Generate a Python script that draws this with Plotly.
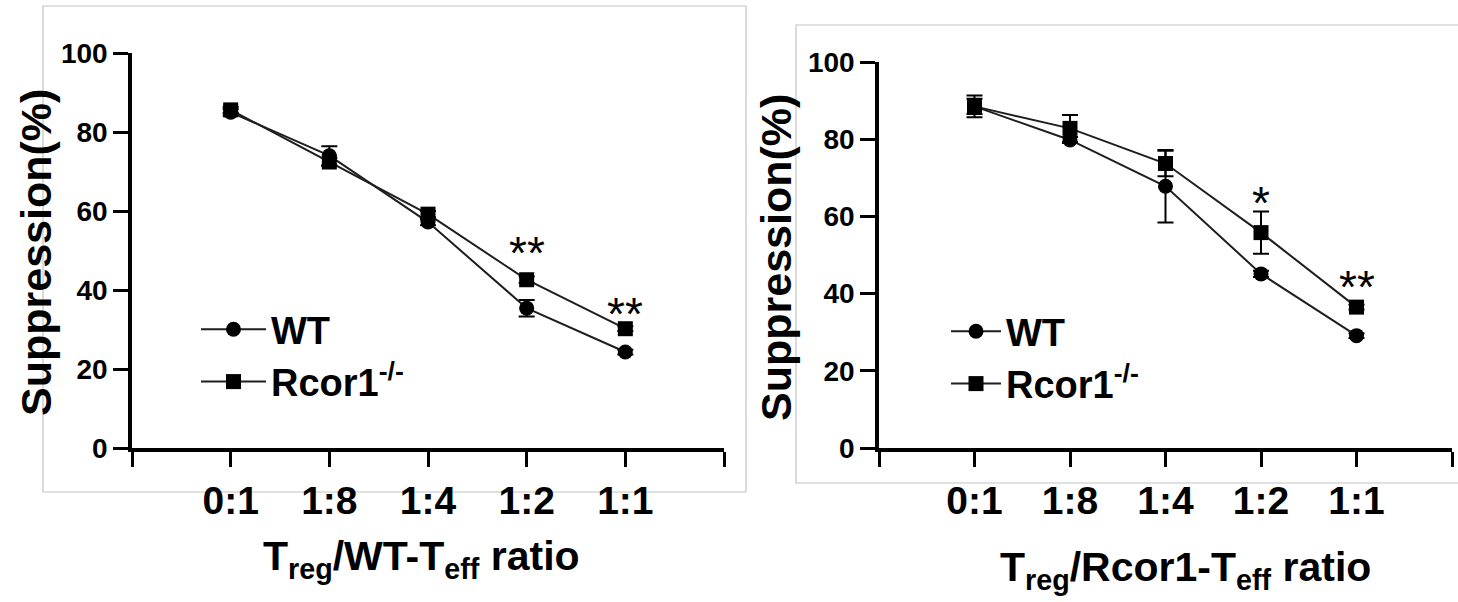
import plotly.graph_objects as go

W, H = 1458, 602

# ---------------- data ----------------
categories = ["0:1", "1:8", "1:4", "1:2", "1:1"]
cat_pos = [0, 1, 2, 3, 4]

# left panel: Treg / WT-Teff
left_wt = [85.0, 74.0, 57.2, 35.4, 24.3]
left_wt_err = [0.8, 2.4, 0.8, 2.1, 0.6]
left_ko = [85.6, 72.4, 59.2, 42.6, 30.2]
left_ko_err = [0.8, 1.0, 0.8, 0.8, 0.6]
left_star_text = ["", "", "", "**", "**"]
left_star_y = [None, None, None, 49.3, 33.8]

# right panel: Treg / Rcor1-Teff
right_wt = [88.5, 79.8, 67.8, 45.1, 29.1]
right_wt_err = [2.0, 0.8, 9.4, 0.8, 0.6]
right_ko = [88.5, 82.8, 73.7, 55.8, 36.5]
right_ko_err = [2.8, 3.5, 3.3, 5.5, 0.6]
right_star_text = ["", "", "", "*", "**"]
right_star_y = [None, None, None, 63.5, 41.8]

y_ticks = [0, 20, 40, 60, 80, 100]
series_names = ["WT", "Rcor1<sup>-/-</sup>"]
y_title = "Suppression(%)"
x_titles = ["T<sub>reg</sub>/WT-T<sub>eff</sub> ratio",
            "T<sub>reg</sub>/Rcor1-T<sub>eff</sub> ratio"]

FONT = "Arial, 'Liberation Sans', sans-serif"
LINE_C = "#1e1e1e"


def px(x):
    return x / W


def py(y):
    return 1 - y / H


fig = go.Figure()

panels = [
    dict(wt=left_wt, wte=left_wt_err, ko=left_ko, koe=left_ko_err,
         st=left_star_text, sy=left_star_y, xa="x", ya="y", leg="legend"),
    dict(wt=right_wt, wte=right_wt_err, ko=right_ko, koe=right_ko_err,
         st=right_star_text, sy=right_star_y, xa="x2", ya="y2", leg="legend2"),
]

for p in panels:
    for name, vals, errs, sym in [(series_names[0], p["wt"], p["wte"], "circle"),
                                  (series_names[1], p["ko"], p["koe"], "square")]:
        fig.add_trace(go.Scatter(
            x=cat_pos, y=vals, name=name, mode="lines+markers",
            xaxis=p["xa"], yaxis=p["ya"], legend=p["leg"],
            line=dict(color=LINE_C, width=2),
            marker=dict(symbol=sym, size=15, color="black"),
            error_y=dict(type="data", array=errs, visible=True,
                         color="black", thickness=2, width=8),
        ))
    for xi, t, yv in zip(cat_pos, p["st"], p["sy"]):
        if t:
            fig.add_annotation(x=xi, y=yv, xref=p["xa"], yref=p["ya"], text=t,
                               showarrow=False, xanchor="center", yanchor="middle",
                               font=dict(family=FONT, size=46, color="black"))

axis_common = dict(
    showline=True, linecolor="black", linewidth=3.5, mirror=False,
    ticks="outside", ticklen=15, tickwidth=3, tickcolor="black",
    showgrid=False, zeroline=False, fixedrange=True, automargin=False,
)
x_end_ticks = dict(tickvals=[-1, 5], ticks="outside", ticklen=15, tickwidth=3,
                   tickcolor="black", showgrid=False)

fig.update_layout(
    template="none",
    width=W, height=H, autosize=False,
    margin=dict(l=0, r=0, t=0, b=0, pad=0, autoexpand=False),
    paper_bgcolor="white", plot_bgcolor="white",
    font=dict(family=FONT, color="black"),
    xaxis=dict(domain=[px(132), px(724)], range=[-1, 5], anchor="y",
               tickvals=cat_pos, ticktext=categories, minor=x_end_ticks,
               tickfont=dict(size=39, weight="bold", family=FONT), **axis_common),
    yaxis=dict(domain=[py(448), py(53)], range=[0, 100], anchor="x",
               tickvals=y_ticks, tickfont=dict(size=28, weight="bold", family=FONT),
               **axis_common),
    xaxis2=dict(domain=[px(879), px(1452)], range=[-1, 5], anchor="y2",
                tickvals=cat_pos, ticktext=categories, minor=x_end_ticks,
                tickfont=dict(size=39, weight="bold", family=FONT), **axis_common),
    yaxis2=dict(domain=[py(448), py(62)], range=[0, 100], anchor="x2",
                tickvals=y_ticks, tickfont=dict(size=28, weight="bold", family=FONT),
                **axis_common),
    legend=dict(x=px(196), y=py(298), xanchor="left", yanchor="top",
                bgcolor="rgba(0,0,0,0)", borderwidth=0, itemwidth=65,
                font=dict(size=38, weight="bold", family=FONT),
                traceorder="normal", itemclick=False),
    legend2=dict(x=px(946), y=py(300), xanchor="left", yanchor="top",
                 bgcolor="rgba(0,0,0,0)", borderwidth=0, itemwidth=50,
                 font=dict(size=38, weight="bold", family=FONT),
                 traceorder="normal", itemclick=False),
    showlegend=True,
)

# panel frames (light gray)
frame_c = "#c4c4c4"
fig.add_shape(type="rect", xref="paper", yref="paper",
              x0=px(43), x1=px(746), y0=py(492), y1=py(6),
              line=dict(color=frame_c, width=1.2), layer="below")
fig.add_shape(type="rect", xref="paper", yref="paper",
              x0=px(796), x1=px(1470), y0=py(483), y1=py(25),
              line=dict(color=frame_c, width=1.2), layer="below")

# axis titles
fig.add_annotation(x=px(36), y=py(253), xref="paper", yref="paper",
                   text=y_title, textangle=-90, showarrow=False,
                   xanchor="center", yanchor="middle",
                   font=dict(size=43, weight="bold", family=FONT))
fig.add_annotation(x=px(776), y=py(258), xref="paper", yref="paper",
                   text=y_title, textangle=-90, showarrow=False,
                   xanchor="center", yanchor="middle",
                   font=dict(size=43, weight="bold", family=FONT))
fig.add_annotation(x=px(421), y=py(559), xref="paper", yref="paper",
                   text=x_titles[0], showarrow=False,
                   xanchor="center", yanchor="middle",
                   font=dict(size=41, weight="bold", family=FONT))
fig.add_annotation(x=px(1185), y=py(570), xref="paper", yref="paper",
                   text=x_titles[1], showarrow=False,
                   xanchor="center", yanchor="middle",
                   font=dict(size=41, weight="bold", family=FONT))

fig.write_html(
    "out.html",
    config={"displayModeBar": False},
    post_script="document.body.style.margin='0';document.body.style.overflow='hidden';",
)
